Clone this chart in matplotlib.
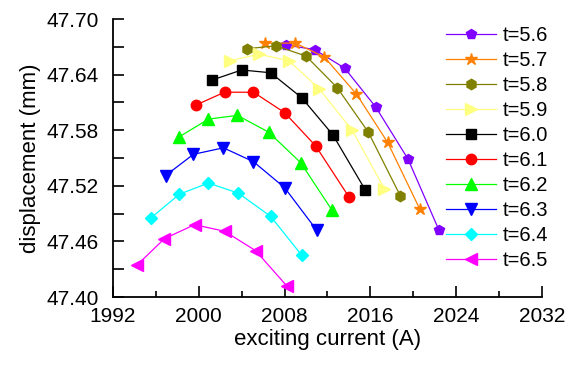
import matplotlib
matplotlib.use("Agg")
import matplotlib.pyplot as plt
import matplotlib.ticker as mticker

plt.rcParams.update({
    "font.family": ["Liberation Sans", "DejaVu Sans"],
    "font.size": 15,
})

# displacement curves for each t, exciting current (A) vs displacement (mm)
labels = ["t=5.6", "t=5.7", "t=5.8", "t=5.9", "t=6.0",
          "t=6.1", "t=6.2", "t=6.3", "t=6.4", "t=6.5"]

x_56 = [2008.1, 2010.8, 2013.6, 2016.5, 2019.5, 2022.4]
y_56 = [47.672, 47.667, 47.647, 47.605, 47.549, 47.472]
x_57 = [2006.2, 2009.0, 2011.7, 2014.7, 2017.6, 2020.6]
y_57 = [47.674, 47.674, 47.659, 47.619, 47.567, 47.495]
x_58 = [2004.5, 2007.2, 2010.0, 2012.9, 2015.8, 2018.8]
y_58 = [47.668, 47.671, 47.660, 47.626, 47.578, 47.509]
x_59 = [2002.9, 2005.6, 2008.4, 2011.2, 2014.3, 2017.3]
y_59 = [47.655, 47.662, 47.655, 47.625, 47.580, 47.517]
x_60 = [2001.2, 2004.0, 2006.7, 2009.6, 2012.5, 2015.5]
y_60 = [47.634, 47.645, 47.642, 47.615, 47.575, 47.516]
x_61 = [1999.7, 2002.4, 2005.1, 2008.0, 2010.9, 2014.0]
y_61 = [47.607, 47.621, 47.621, 47.599, 47.563, 47.508]
x_62 = [1998.2, 2000.9, 2003.6, 2006.5, 2009.5, 2012.4]
y_62 = [47.573, 47.592, 47.596, 47.578, 47.545, 47.494]
x_63 = [1996.9, 1999.5, 2002.3, 2005.1, 2008.0, 2011.0]
y_63 = [47.531, 47.554, 47.561, 47.546, 47.518, 47.472]
x_64 = [1995.5, 1998.2, 2000.9, 2003.7, 2006.7, 2009.6]
y_64 = [47.485, 47.511, 47.523, 47.512, 47.487, 47.445]
x_65 = [1994.2, 1996.8, 1999.6, 2002.4, 2005.3, 2008.2]
y_65 = [47.434, 47.463, 47.478, 47.471, 47.450, 47.412]

xs = [x_56, x_57, x_58, x_59, x_60, x_61, x_62, x_63, x_64, x_65]
ys = [y_56, y_57, y_58, y_59, y_60, y_61, y_62, y_63, y_64, y_65]

colors = ["#8000FF", "#FF8000", "#808000", "#FFFF80", "#000000",
          "#FF0000", "#00FF00", "#0000FF", "#00FFFF", "#FF00FF"]
markers = ["p", "*", "h", ">", "s", "o", "^", "v", "D", "<"]
msizes = [7.5, 9, 7.5, 8, 6.5, 7.5, 8, 8, 6.5, 8]

fig = plt.figure(figsize=(5.78, 3.65), dpi=100)
ax = fig.add_axes([0.1955, 0.1863, 0.7422, 0.7616])

handles = []
for x, y, c, m, ms, lab in zip(xs, ys, colors, markers, msizes, labels):
    h, = ax.plot(x, y, color=c, marker=m, markersize=ms, markeredgecolor=c,
                 markerfacecolor=c, linewidth=0.9, label=lab, clip_on=False)
    handles.append(h)

ax.set_xlim(1992, 2032)
ax.set_ylim(47.40, 47.70)
ax.xaxis.set_major_locator(mticker.MultipleLocator(8))
ax.xaxis.set_minor_locator(mticker.MultipleLocator(4))
ax.yaxis.set_major_locator(mticker.MultipleLocator(0.06))
ax.yaxis.set_minor_locator(mticker.MultipleLocator(0.03))
ax.yaxis.set_major_formatter(mticker.FormatStrFormatter("%.2f"))

for side in ("top", "right"):
    ax.spines[side].set_visible(False)
for side in ("left", "bottom"):
    ax.spines[side].set_linewidth(1.3)

ax.tick_params(which="both", direction="in", width=1.2, labelsize=15)
ax.tick_params(axis="x", which="major", length=8, pad=7)
ax.tick_params(axis="x", which="minor", length=4)
ax.tick_params(axis="y", which="both", length=8, pad=10)

ax.set_xlabel("exciting current (A)", fontsize=16, labelpad=2)
ax.set_ylabel("displacement (mm)", fontsize=16, labelpad=4)

fig.legend(handles=handles, loc="upper left",
           bbox_to_anchor=(446 / 578, 1 - 26 / 365),
           frameon=False, fontsize=14.5, handlelength=2.5,
           handletextpad=0.3, labelspacing=0.3, borderpad=0,
           borderaxespad=0)

fig.savefig("out.png", dpi=100)
